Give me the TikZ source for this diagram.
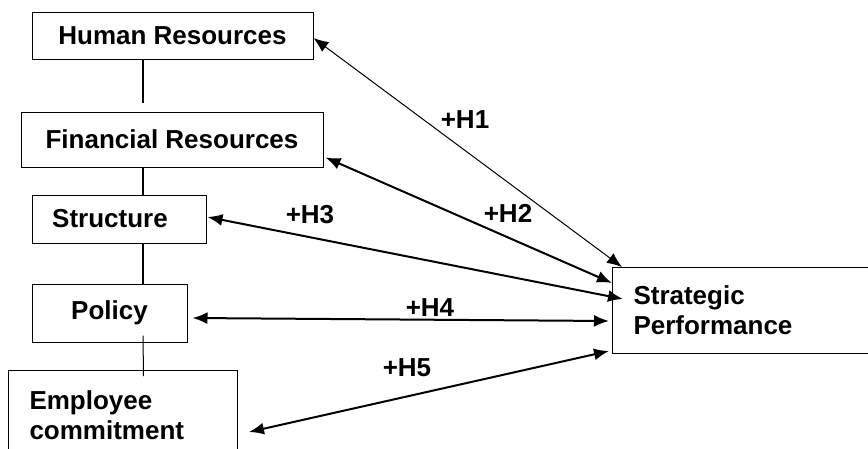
\documentclass[tikz,border=0pt]{standalone}
\usepackage{fontspec}
\setmainfont{Liberation Sans}
\usetikzlibrary{arrows.meta}
\begin{document}
\begin{tikzpicture}[x=1pt,y=-1pt,
  box/.style={draw, line width=1pt, inner sep=0pt, font=\fontsize{26}{30}\selectfont\bfseries},
  leftbox/.style={box, align=left, inner xsep=21pt},
  link/.style={line width=1.3pt},
  tips/.style={{Latex[length=15pt,width=12pt]}-{Latex[length=15pt,width=12pt]}},
  hyp/.style={tips, line width=2pt},
  thinhyp/.style={tips, line width=1pt},
  lab/.style={font=\fontsize{26}{30}\selectfont\bfseries, inner sep=0pt}]
\useasboundingbox (0,0) rectangle (868,448);
\clip (0,0) rectangle (868,448);
% boxes
\node[box, minimum width=281pt, minimum height=47pt] (hr) at (172.5,35.5) {Human Resources};
\node[box, minimum width=302pt, minimum height=55pt] (fr) at (172,139.5) {Financial Resources};
\node[box, minimum width=174pt, minimum height=48pt] (st) at (119,219) {\hspace*{-18pt}Structure};
\node[box, minimum width=155pt, minimum height=58pt] (po) at (109.5,313) {Policy};
\node[leftbox, anchor=north west, minimum width=229pt, minimum height=90pt, text width=187pt] (em) at (8,370) {Employee\\commitment};
\node[leftbox, anchor=north west, minimum width=280pt, minimum height=86pt, text width=238pt] (sp) at (612,267) {Strategic\\Performance};
% vertical links
\draw[link] ([xshift=-29.5pt]hr.south) -- ([shift={(-29pt,9pt)}]fr.north);
\draw[link] ([xshift=-29pt]fr.south) -- ([xshift=24pt]st.north);
\draw[link] ([xshift=24pt]st.south) -- ([xshift=33.5pt]po.north);
\draw[line width=1pt] ([shift={(33.5pt,7pt)}]po.south) -- ([shift={(20.5pt,-6pt)}]em.north);
% hypotheses
\draw[thinhyp] ([yshift=-2.5pt]hr.east) -- ([xshift=10pt]sp.north west);
\draw[hyp] ([shift={(2pt,10pt)}]fr.south east) -- ([yshift=-16pt]sp.north west);
\draw[hyp] ([shift={(1pt,2pt)}]st.east) -- ([shift={(11pt,-32pt)}]sp.north west);
\draw[hyp] ([shift={(5pt,-5pt)}]po.east) -- ([shift={(-3pt,-54pt)}]sp.north west);
\draw[hyp] ([shift={(11pt,-62pt)}]em.north east) -- ([shift={(-3pt,-84pt)}]sp.north west);
% labels
\node[lab] (l1) at (465,120) {+H1};
\node[lab] (l2) at (508,213) {+H2};
\node[lab] (l3) at (310,215) {+H3};
\node[lab] (l4) at (430,308) {+H4};
\node[lab] (l5) at (407,368) {+H5};
\end{tikzpicture}
\end{document}
